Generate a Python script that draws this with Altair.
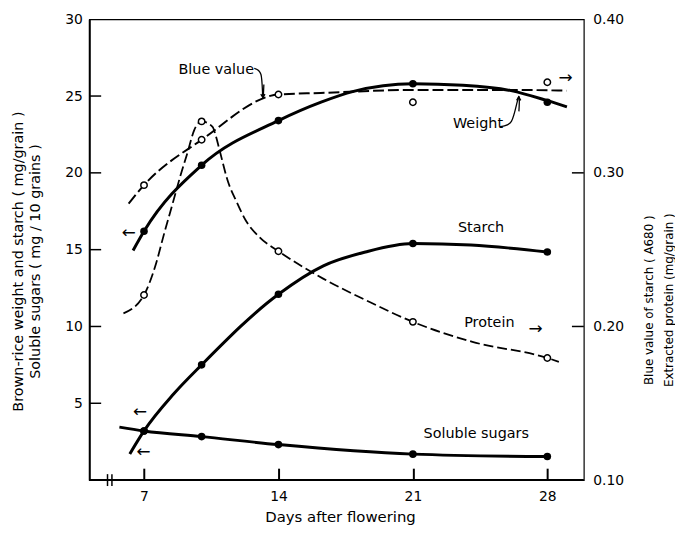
import altair as alt
import pandas as pd

# ---- measured points (days after flowering) ----
days = [7, 10, 14, 21, 28]
weight = [16.2, 20.5, 23.4, 25.8, 24.6]          # mg/grain (left)
starch = [3.2, 7.5, 12.1, 15.4, 14.85]           # mg/grain (left)
sugars = [3.2, 2.83, 2.31, 1.69, 1.53]           # mg/10 grains (left)
blue = [0.292, 0.3215, 0.351, 0.346, 0.359]      # A680 (right)
protein = [0.2205, 0.3335, 0.249, 0.203, 0.1795] # mg/grain (right)

# ---- fitted curves as drawn in the figure ----
weight_curve_days = [6.43, 7, 10, 14, 16.22, 17.91, 21, 23.6, 26.11, 28, 29.02]
weight_curve_vals = [14.95, 16.2, 20.5, 23.4, 24.6, 25.3, 25.8, 25.7, 25.35, 24.7, 24.3]
starch_curve_days = [6.26, 7, 8.54, 10, 14, 16.34, 18.53, 21, 24.02, 28]
starch_curve_vals = [1.7, 3.2, 5.6, 7.5, 12.1, 13.95, 14.85, 15.4, 15.3, 14.85]
sugar_curve_days = [5.72, 7, 10, 14, 21, 28]
sugar_curve_vals = [3.45, 3.2, 2.83, 2.31, 1.69, 1.53]
blue_curve_days = [6.2, 7, 10, 14, 16.2, 21, 26, 29.0]
blue_curve_vals = [0.280, 0.292, 0.3215, 0.351, 0.352, 0.354, 0.354, 0.3535]
protein_curve_days = [5.93, 7, 7.58, 8.06, 8.49, 8.87, 9.26, 9.62, 10, 10.57, 10.74, 10.92,
                      11.38, 11.79, 12.3, 13.02, 14, 16.35, 18.57, 21, 24.1, 28, 28.6]
protein_curve_vals = [0.2085, 0.2205, 0.239, 0.261, 0.280, 0.297, 0.313, 0.328, 0.3335, 0.330,
                      0.324, 0.3155, 0.294, 0.282, 0.269, 0.258, 0.249, 0.231, 0.217, 0.203,
                      0.190, 0.1795, 0.177]

# ---- axes ----
x_ticks = [7, 14, 21, 28]
left_ticks = [5, 10, 15, 20, 25, 30]
right_ticks = [0.10, 0.20, 0.30, 0.40]
break_days = [5.1, 5.33]

# ---- annotations ----
lab_text = ["Blue value", "Weight", "Starch", "Protein", "Soluble sugars"]
lab_days = [10.76, 24.39, 24.55, 24.98, 24.3]
lab_vals = [26.7, 23.2, 16.4, 10.2, 3.0]
arrow_text = ["\u2192", "\u2190", "\u2190", "\u2190", "\u2192"]
arrow_days = [27.39, 6.21, 6.8, 6.98, 28.95]
arrow_vals = [9.85, 16.1, 4.4, 1.85, 26.15]

blue_arrow_days = [12.74, 13.09, 13.24, 13.19]
blue_arrow_vals = [26.8, 26.4, 25.75, 24.9]
weight_arrow_days = [25.53, 26.13, 26.52, 26.51]
weight_arrow_vals = [23.0, 23.35, 24.0, 24.95]

W, H = 499, 465
TICK = 12
FONT = "DejaVu Sans"

X = alt.Scale(domain=[4.15, 29.9], nice=False, zero=False)
YL = alt.Scale(domain=[0, 30], nice=False, zero=False)
YR = alt.Scale(domain=[0.10, 0.40], nice=False, zero=False)


def series(name, d, v):
    return pd.DataFrame({"series": name, "d": d, "v": v})


left_curves = pd.concat([
    series("Weight", weight_curve_days, weight_curve_vals),
    series("Starch", starch_curve_days, starch_curve_vals),
    series("Sugars", sugar_curve_days, sugar_curve_vals),
])
left_points = pd.concat([
    series("Weight", days, weight),
    series("Starch", days, starch),
    series("Sugars", days, sugars),
])
arrows = pd.concat([
    series("blue", blue_arrow_days, blue_arrow_vals),
    series("weight", weight_arrow_days, weight_arrow_vals),
])
labs = pd.DataFrame({"t": lab_text, "d": lab_days, "v": lab_vals})
arrs = pd.DataFrame({"t": arrow_text, "d": arrow_days, "v": arrow_vals})

# bottom axis is lifted by the tick length so that its ticks point into the plot
bottom_axis = alt.Axis(values=x_ticks, ticks=True, tickSize=TICK, tickWidth=2,
                       tickColor="black", tickOpacity=1, offset=-TICK, domain=False, grid=False,
                       labelFont=FONT, labelFontSize=14, labelColor="black", labelPadding=10,
                       title="Days after flowering", titleFont=FONT, titleFontSize=15,
                       titleFontWeight="normal", titleColor="black",
                       titleX=253, titleY=42 + TICK, titleBaseline="alphabetic",
                       titleAlign="center", zindex=1)
left_axis = alt.Axis(orient="left", values=left_ticks, ticks=False, domain=True,
                     domainColor="black", domainWidth=2, grid=False,
                     labelFont=FONT, labelFontSize=14, labelColor="black", labelPadding=7,
                     title=["Brown-rice weight and starch ( mg/grain )",
                            "Soluble sugars ( mg / 10 grains )"],
                     titleFont=FONT, titleFontSize=14.5, titleFontWeight="normal",
                     titleColor="black", titleAngle=270, titleBaseline="top",
                     titleAlign="center", titleX=-78, titleY=244, titleLineHeight=17)
right_axis = alt.Axis(orient="right", values=right_ticks, format=".2f", ticks=False,
                      domain=False, grid=False, labelFont=FONT, labelFontSize=14,
                      labelColor="black", labelPadding=9,
                      title=["Blue value of starch ( A680 )", "Extracted protein (mg/grain )"],
                      titleFont=FONT, titleFontSize=12, titleFontWeight="normal",
                      titleColor="black", titleAngle=270, titleBaseline="top",
                      titleAlign="center", titleX=60, titleY=283, titleLineHeight=20)

XA = alt.X("d:Q", scale=X, axis=bottom_axis)
YLN = alt.Y("v:Q", scale=YL, axis=None)
YRN = alt.Y("v:Q", scale=YR, axis=None)

# axis carriers (invisible points that own the y axes)
yl_axis_layer = alt.Chart(pd.DataFrame({"d": [7] * 6, "v": left_ticks})).mark_point(opacity=0).encode(
    x=XA, y=alt.Y("v:Q", scale=YL, axis=left_axis))
yr_axis_layer = alt.Chart(pd.DataFrame({"d": [7] * 4, "v": right_ticks})).mark_point(opacity=0).encode(
    x=XA, y=alt.Y("v:Q", scale=YR, axis=right_axis))

# inward tick marks on the value axes, thick bottom frame line, axis break
lt = alt.Chart(pd.DataFrame({"v": left_ticks[:-1]})).mark_rule(color="black", strokeWidth=1.5).encode(
    y=YLN, x=alt.value(0), x2=alt.value(TICK))
rt = alt.Chart(pd.DataFrame({"v": right_ticks[1:-1]})).mark_rule(color="black", strokeWidth=1.5).encode(
    y=YRN, x=alt.value(W - TICK), x2=alt.value(W))
base = alt.Chart(pd.DataFrame({"v": [0]})).mark_rule(color="black", strokeWidth=2).encode(
    y=YLN, x=alt.value(0), x2=alt.value(W))
brk = alt.Chart(pd.DataFrame({"d": break_days})).mark_tick(
    orient="vertical", size=12, thickness=1.5, color="black", opacity=1).encode(
    x=XA, y=alt.value(H))

lcurve = alt.Chart(left_curves).mark_line(interpolate="monotone", color="black", strokeWidth=3).encode(
    x=XA, y=YLN, detail="series:N")
lpts = alt.Chart(left_points).mark_point(shape="circle", filled=True, size=58, color="black", opacity=1).encode(
    x=XA, y=YLN)
txt = alt.Chart(labs).mark_text(font=FONT, fontSize=14.5, color="black").encode(
    x=XA, y=YLN, text="t:N")
atxt = alt.Chart(arrs).mark_text(font=FONT, fontSize=17, color="black").encode(
    x=XA, y=YLN, text="t:N")
arr = alt.Chart(arrows).mark_line(interpolate="cardinal", color="black", strokeWidth=1.3).encode(
    x=XA, y=YLN, detail="series:N")
tip_down = alt.Chart(pd.DataFrame({"d": blue_arrow_days[-1:], "v": blue_arrow_vals[-1:]})).mark_point(
    shape="M-0.6,-1L0,0L0.6,-1", size=50, stroke="black", strokeWidth=1.3, filled=False, opacity=1).encode(
    x=XA, y=YLN)
tip_up = alt.Chart(pd.DataFrame({"d": weight_arrow_days[-1:], "v": weight_arrow_vals[-1:]})).mark_point(
    shape="M-0.6,1L0,0L0.6,1", size=50, stroke="black", strokeWidth=1.3, filled=False, opacity=1).encode(
    x=XA, y=YLN)

bcurve = alt.Chart(series("Blue", blue_curve_days, blue_curve_vals)).mark_line(
    interpolate="monotone", color="black", strokeWidth=2, strokeDash=[11, 4]).encode(x=XA, y=YRN)
pcurve = alt.Chart(series("Protein", protein_curve_days, protein_curve_vals)).mark_line(
    interpolate="monotone", color="black", strokeWidth=1.8, strokeDash=[10, 4]).encode(x=XA, y=YRN)
rpts = alt.Chart(pd.concat([series("Blue", days, blue), series("Protein", days, protein)])).mark_point(
    shape="circle", filled=True, fill="white", stroke="black", strokeWidth=1.5, size=42, opacity=1).encode(
    x=XA, y=YRN)

chart = alt.layer(
    yl_axis_layer, yr_axis_layer,
    lt, rt, base, brk,
    lcurve, bcurve, pcurve, arr, tip_down, tip_up,
    lpts, rpts, txt, atxt,
).resolve_scale(y="independent").properties(
    width=W, height=H,
    padding={"left": 82, "top": 9, "right": 92, "bottom": 45},
    autosize=alt.AutoSizeParams(type="none"),
    background="white",
).configure_view(stroke="black", strokeWidth=1.2)

chart.save("out.html", embed_options={"renderer": "svg", "actions": False})
